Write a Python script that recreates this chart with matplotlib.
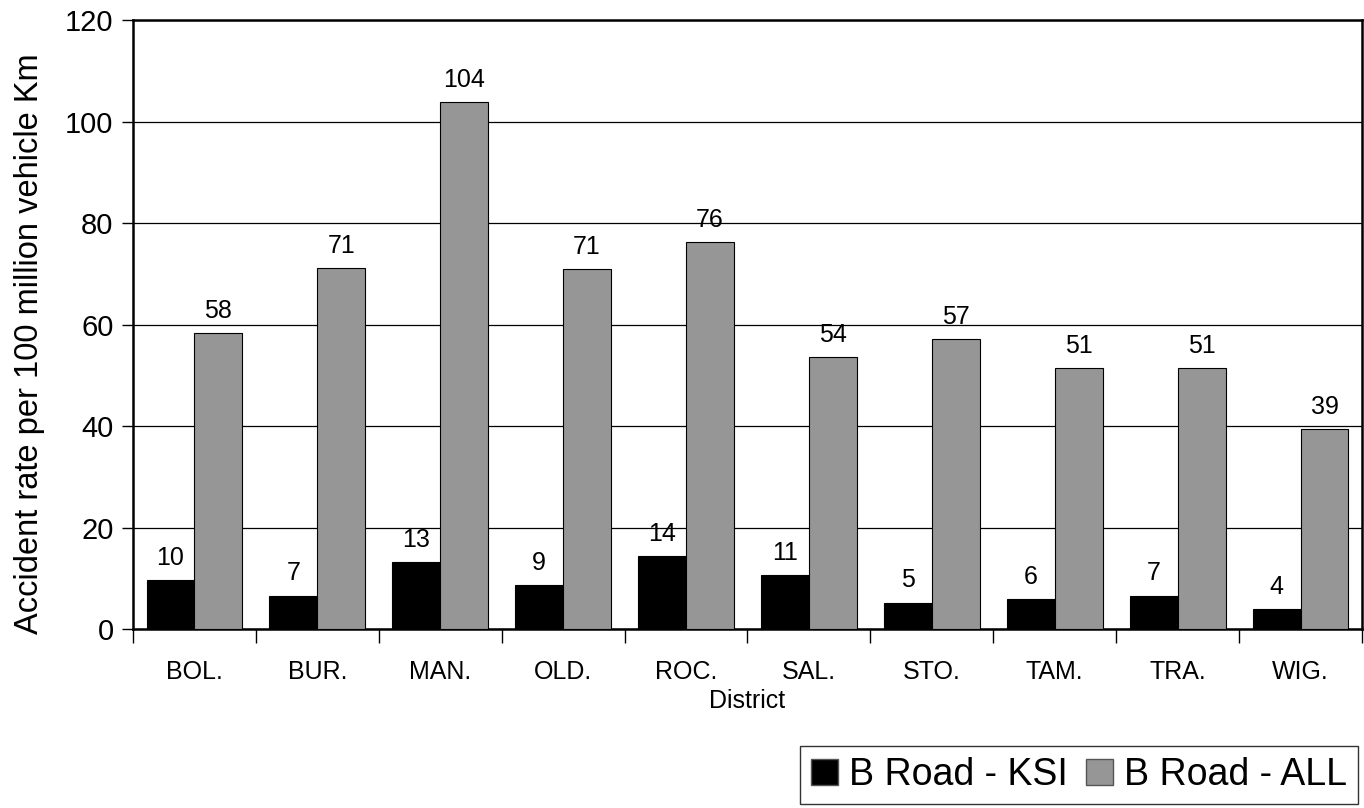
import numpy as np
import matplotlib.pyplot as plt
from matplotlib.patches import Patch

districts = ["BOL.", "BUR.", "MAN.", "OLD.", "ROC.", "SAL.", "STO.", "TAM.", "TRA.", "WIG."]
ksi = [9.7, 6.6, 13.2, 8.6, 14.4, 10.6, 5.2, 5.9, 6.6, 4.0]
all_acc = [58.3, 71.2, 103.9, 70.9, 76.3, 53.6, 57.1, 51.4, 51.4, 39.4]
yticks = [0, 20, 40, 60, 80, 100, 120]

plt.rcParams['font.family'] = ['Liberation Sans', 'DejaVu Sans']


def main():
    fig = plt.figure(figsize=(13.64, 8.08), dpi=100)
    ax = fig.add_axes([0.0975, 0.2215, 0.901, 0.7537])

    x = np.arange(len(districts))
    w = 0.39
    b1 = ax.bar(x - w / 2, ksi, w, color="black", edgecolor="black", linewidth=0.8, zorder=3)
    b2 = ax.bar(x + w / 2, all_acc, w, color="#969696", edgecolor="black", linewidth=0.8, zorder=3)

    for bars, vals in ((b1, ksi), (b2, all_acc)):
        for r, v in zip(bars, vals):
            ax.text(r.get_x() + r.get_width() / 2, v + 2.0, "%.0f" % v,
                    ha="center", va="bottom", fontsize=18)

    ax.set_xlim(-0.5, len(districts) - 0.5)
    ax.set_ylim(0, 120)
    ax.set_yticks(yticks)
    ax.tick_params(axis="y", labelsize=21, length=8, width=1, direction="out", pad=6)

    ax.set_xticks(np.arange(len(districts) + 1) - 0.5)
    ax.set_xticklabels([])
    ax.tick_params(axis="x", which="major", length=10, width=1, direction="out")
    ax.set_xticks(x, minor=True)
    ax.set_xticklabels(districts, minor=True)
    ax.tick_params(axis="x", which="minor", length=0, labelsize=18, pad=22)

    ax.yaxis.grid(True, color="black", linewidth=0.9, zorder=0)
    ax.set_axisbelow(True)
    for s in ax.spines.values():
        s.set_linewidth(1.8)
        s.set_color("black")

    ax.set_ylabel("Accident rate per 100 million vehicle Km", fontsize=23.5)
    ax.yaxis.set_label_coords(-0.0716, 0.468)
    ax.set_xlabel("District", fontsize=18, labelpad=4)

    handles = [Patch(facecolor="black", edgecolor="#555555"),
               Patch(facecolor="#969696", edgecolor="#555555")]
    leg = fig.legend(handles, ["B Road - KSI", "B Road - ALL"], ncol=2,
                     loc="lower right", bbox_to_anchor=(0.9985, 0.0),
                     fontsize=27, frameon=True, fancybox=False, edgecolor="black",
                     handlelength=0.7, handleheight=0.7, handletextpad=0.3,
                     columnspacing=0.5, borderpad=0.3, borderaxespad=0.1)
    leg.get_frame().set_linewidth(1.0)

    fig.savefig("out.png", dpi=100)


if __name__ == "__main__":
    main()
